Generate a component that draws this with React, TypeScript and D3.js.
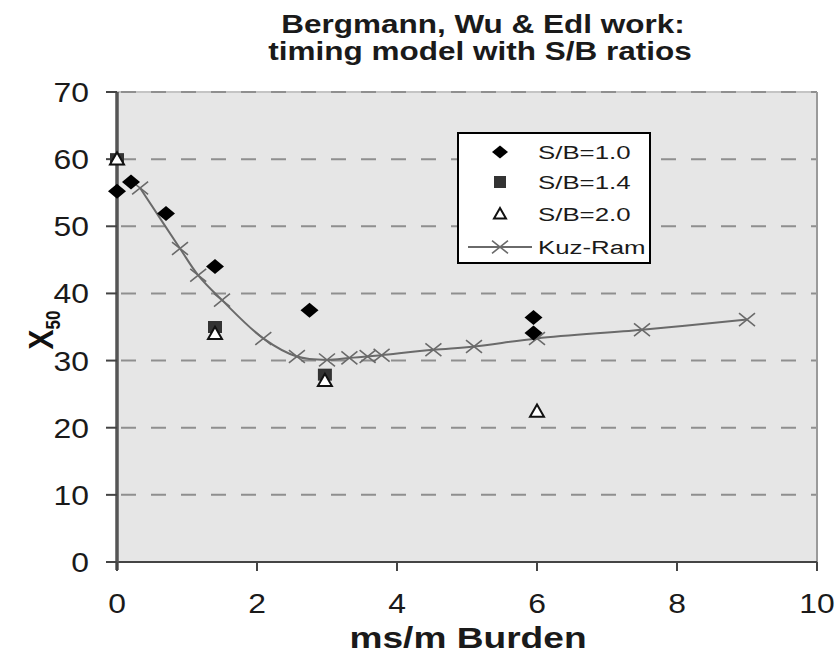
import React from "react";
import * as d3 from "d3";

// S/B series
const sb10X = [0, 0.2, 0.7, 1.4, 2.75, 5.95, 5.95];
const sb10Y = [55.2, 56.6, 51.9, 44.0, 37.5, 36.4, 34.1];
const sb14X = [0, 1.4, 2.97];
const sb14Y = [60, 35.0, 27.9];
const sb20X = [0, 1.4, 2.97, 6.0];
const sb20Y = [60, 34.0, 27.0, 22.4];
const kuzX = [0.33, 0.9, 1.16, 1.5, 2.09, 2.57, 3.0, 3.32, 3.58, 3.78, 4.52, 5.1, 6.0, 7.5, 9.0];
const kuzY = [55.7, 46.7, 42.7, 39.0, 33.3, 30.6, 30.1, 30.4, 30.6, 30.8, 31.6, 32.1, 33.3, 34.6, 36.1];
const xTicks = [0, 2, 4, 6, 8, 10];
const yTicks = [0, 10, 20, 30, 40, 50, 60, 70];
const legendLabels = ["S/B=1.0", "S/B=1.4", "S/B=2.0", "Kuz-Ram"];

const W = 837;
const H = 655;
const left = 117, right = 817, top = 92, bottom = 562;
const font = "'Liberation Sans', Arial, sans-serif";

const diamond = (cx: number, cy: number, rx: number, ry: number) =>
  `M${cx},${cy - ry}L${cx + rx},${cy}L${cx},${cy + ry}L${cx - rx},${cy}Z`;
const triangle = (cx: number, cy: number, r: number) =>
  `M${cx},${cy - r}L${cx + r},${cy + r * 0.75}L${cx - r},${cy + r * 0.75}Z`;
const cross = (cx: number, cy: number, r: number) =>
  `M${cx - r},${cy - r * 0.8}L${cx + r},${cy + r * 0.8}M${cx - r},${cy + r * 0.8}L${cx + r},${cy - r * 0.8}`;

// text that is a bit wider than the font, like the stretched original
function Wide(props: {
  x: number; y: number; sx?: number; size: number; anchor?: string; bold?: boolean; children: React.ReactNode;
}) {
  const { x, y, sx = 1.25, size, anchor = "start", bold, children } = props;
  return (
    <text transform={`translate(${x},${y}) scale(${sx},1)`} textAnchor={anchor} fontFamily={font}
      fontSize={size} fontWeight={bold ? "bold" : "normal"} fill="#1a1a1a">
      {children}
    </text>
  );
}

export default function App() {
  const x = d3.scaleLinear().domain([0, 10]).range([left, right]);
  const y = d3.scaleLinear().domain([0, 70]).range([bottom, top]);

  const line = d3
    .line<number>()
    .x((d, i) => x(kuzX[i]))
    .y((d) => y(d))
    .curve(d3.curveCatmullRom.alpha(0.5));

  const legY = [152, 182, 214, 247];

  return (
    <svg width={W} height={H} style={{ position: "absolute", left: 0, top: 0, background: "#fff" }}>
      {/* title */}
      <Wide x={483} y={33} size={25} anchor="middle" bold sx={1.26}>Bergmann, Wu &amp; Edl work:</Wide>
      <Wide x={480} y={60} size={25} anchor="middle" bold sx={1.26}>timing model with S/B ratios</Wide>

      {/* plot area */}
      <rect x={left} y={top} width={right - left} height={bottom - top} fill="#e6e6e6" />
      <line x1={left} x2={right} y1={top} y2={top} stroke="#c4c4c4" strokeWidth={2} />
      {yTicks.filter((t) => t > 0).map((t) => (
        <line key={t} x1={left} x2={right} y1={y(t)} y2={y(t)} stroke="#8f8f8f"
          strokeWidth={2} strokeDasharray="15,15" strokeDashoffset={-4} />
      ))}
      <line x1={right} x2={right} y1={top} y2={bottom} stroke="#9a9a9a" strokeWidth={2} />

      {/* axes */}
      <line x1={left} x2={right} y1={bottom} y2={bottom} stroke="#444" strokeWidth={2} />
      <line x1={left} x2={left} y1={top} y2={bottom + 8} stroke="#555" strokeWidth={3.5} />
      {yTicks.map((t) => (
        <g key={t}>
          <line x1={left - 11} x2={left} y1={y(t)} y2={y(t)} stroke="#444" strokeWidth={2} />
          <Wide x={89} y={y(t) + 10} size={27} anchor="end" sx={1.18}>{t}</Wide>
        </g>
      ))}
      {xTicks.map((t) => (
        <g key={t}>
          <line x1={x(t)} x2={x(t)} y1={bottom} y2={bottom + 9} stroke="#444" strokeWidth={2} />
          <Wide x={x(t)} y={613} size={27} anchor="middle" sx={1.18}>{t}</Wide>
        </g>
      ))}

      {/* axis titles */}
      <Wide x={468} y={648} size={29} anchor="middle" bold sx={1.28}>ms/m Burden</Wide>
      <text transform="translate(53,330) rotate(-90) scale(1,1.15)" textAnchor="middle" fontFamily={font}
        fontWeight="bold" fontSize={30} fill="#111">
        X<tspan fontSize={17} dy={6}>50</tspan>
      </text>

      {/* Kuz-Ram line */}
      <path d={line(kuzY) ?? ""} fill="none" stroke="#6a6a6a" strokeWidth={2} />
      {kuzY.map((v, i) => (
        <path key={i} d={cross(x(kuzX[i]), y(v), 8)} stroke="#6a6a6a" strokeWidth={1.6} fill="none" />
      ))}

      {/* S/B points */}
      {sb14Y.map((v, i) => (
        <rect key={i} x={x(sb14X[i]) - 7} y={y(v) - 6} width={14} height={12} fill="#333" />
      ))}
      {sb10Y.map((v, i) => (
        <path key={i} d={diamond(x(sb10X[i]), y(v), 9, 7.5)} fill="#000" />
      ))}
      {sb20Y.map((v, i) => (
        <path key={i} d={triangle(x(sb20X[i]), y(v), 7)} fill="#fff" stroke="#111" strokeWidth={2} />
      ))}

      {/* legend */}
      <rect x={458} y={133} width={192} height={130} fill="#fff" stroke="#000" strokeWidth={2} />
      <path d={diamond(500, legY[0], 8, 6.5)} fill="#000" />
      <rect x={494} y={legY[1] - 6} width={12} height={12} fill="#333" />
      <path d={triangle(500, legY[2], 6)} fill="#fff" stroke="#111" strokeWidth={2} />
      <line x1={468} x2={532} y1={legY[3]} y2={legY[3]} stroke="#6a6a6a" strokeWidth={2} />
      <path d={cross(500, legY[3], 8)} stroke="#6a6a6a" strokeWidth={1.6} fill="none" />
      {legendLabels.map((l, i) => (
        <Wide key={l} x={538} y={legY[i] + 7} size={19} sx={1.36}>{l}</Wide>
      ))}
    </svg>
  );
}
